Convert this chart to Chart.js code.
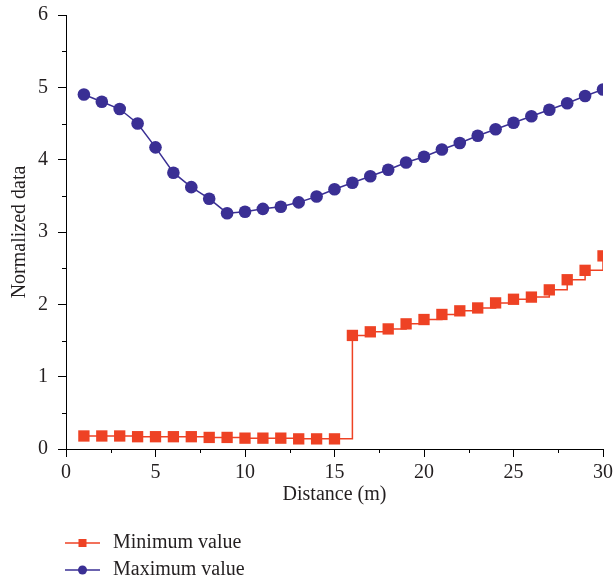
<!DOCTYPE html>
<html>
<head>
<meta charset="utf-8">
<script src="https://cdn.jsdelivr.net/npm/chart.js@4/dist/chart.umd.min.js"></script>
<style>
  html, body { margin: 0; padding: 0; background: #fff; }
  #wrap { width: 613px; height: 582px; position: relative; }
</style>
</head>
<body>
<div id="wrap"><canvas id="c" width="613" height="582"></canvas></div>
<script>
const distance = [1,2,3,4,5,6,7,8,9,10,11,12,13,14,15,16,17,18,19,20,21,22,23,24,25,26,27,28,29,30];
const minValue = [0.18,0.18,0.18,0.17,0.17,0.17,0.17,0.16,0.16,0.15,0.15,0.15,0.14,0.14,0.14,1.57,1.62,1.66,1.73,1.79,1.86,1.91,1.95,2.02,2.07,2.10,2.20,2.34,2.47,2.67];
const maxValue = [4.90,4.80,4.70,4.50,4.17,3.82,3.62,3.46,3.26,3.28,3.32,3.35,3.41,3.49,3.59,3.68,3.77,3.86,3.96,4.04,4.14,4.23,4.33,4.42,4.51,4.60,4.69,4.78,4.88,4.97];
const seriesNames = ['Minimum value', 'Maximum value'];
const xTickLabels = [0,5,10,15,20,25,30];
const yTickLabels = [0,1,2,3,4,5,6];

const RED = '#ee4224';
const BLUE = '#3a2f94';
const TXT = '#231f20';
const FONT = 'Liberation Serif';

const minorTicks = {
  id: 'minorTicks',
  afterDraw(chart) {
    const ctx = chart.ctx, xs = chart.scales.x, ys = chart.scales.y;
    ctx.save();
    ctx.strokeStyle = '#000';
    ctx.lineWidth = 1;
    ctx.beginPath();
    for (let i = 0; i < xTickLabels.length - 1; i++) {
      const v = (xTickLabels[i] + xTickLabels[i + 1]) / 2;
      const px = Math.round(xs.getPixelForValue(v)) + 0.5;
      ctx.moveTo(px, ys.bottom);
      ctx.lineTo(px, ys.bottom + 4);
    }
    for (let i = 0; i < yTickLabels.length - 1; i++) {
      const v = (yTickLabels[i] + yTickLabels[i + 1]) / 2;
      const py = Math.round(ys.getPixelForValue(v)) + 0.5;
      ctx.moveTo(xs.left, py);
      ctx.lineTo(xs.left - 4, py);
    }
    ctx.stroke();
    ctx.restore();
  }
};

const customLegend = {
  id: 'customLegend',
  afterDraw(chart) {
    const ctx = chart.ctx;
    const x0 = chart.chartArea.left - 1;
    const rows = [543, 570];
    ctx.save();
    chart.data.datasets.forEach((ds, i) => {
      const y = rows[i];
      ctx.strokeStyle = ds.borderColor;
      ctx.lineWidth = 1.5;
      ctx.beginPath();
      ctx.moveTo(x0, y);
      ctx.lineTo(x0 + 35, y);
      ctx.stroke();
      ctx.fillStyle = ds.pointBackgroundColor;
      const cx = x0 + 17.5;
      if (ds.pointStyle === 'rect') {
        ctx.fillRect(cx - 4, y - 4, 8, 8);
      } else {
        ctx.beginPath();
        ctx.arc(cx, y, 4.5, 0, Math.PI * 2);
        ctx.fill();
      }
      ctx.fillStyle = TXT;
      ctx.font = '20px "' + FONT + '"';
      ctx.textBaseline = 'middle';
      ctx.textAlign = 'left';
      ctx.fillText(ds.label, x0 + 48, y);
    });
    ctx.restore();
  }
};

new Chart(document.getElementById('c'), {
  type: 'line',
  data: {
    datasets: [
      {
        label: seriesNames[0],
        data: distance.map((d, i) => ({ x: d, y: minValue[i] })),
        borderColor: RED,
        backgroundColor: RED,
        pointBackgroundColor: RED,
        pointBorderColor: RED,
        pointStyle: 'rect',
        pointRadius: 8,
        pointBorderWidth: 0,
        borderWidth: 1.5,
        stepped: 'before',
        fill: false
      },
      {
        label: seriesNames[1],
        data: distance.map((d, i) => ({ x: d, y: maxValue[i] })),
        borderColor: BLUE,
        backgroundColor: BLUE,
        pointBackgroundColor: BLUE,
        pointBorderColor: BLUE,
        pointStyle: 'circle',
        pointRadius: 6.3,
        pointBorderWidth: 0,
        borderWidth: 1.5,
        tension: 0,
        fill: false
      }
    ]
  },
  options: {
    responsive: false,
    animation: false,
    devicePixelRatio: 1,
    layout: { padding: { top: 15, right: 10, left: 0, bottom: 73 } },
    plugins: {
      legend: { display: false },
      tooltip: { enabled: false }
    },
    scales: {
      x: {
        type: 'linear',
        min: 0, max: 30,
        afterBuildTicks(scale) { scale.ticks = xTickLabels.map(v => ({ value: v })); },
        afterFit(scale) {
          scale.height = 60;
          scale.paddingLeft = 0; scale.paddingRight = 0;
          scale.paddingTop = 0; scale.paddingBottom = 0;
        },
        border: { display: true, color: '#000', width: 1 },
        grid: { display: true, drawOnChartArea: false, drawTicks: true, tickLength: 8, color: '#000', tickColor: '#000' },
        ticks: { color: TXT, font: { family: FONT, size: 20 }, padding: 4, maxRotation: 0 },
        title: { display: true, text: 'Distance (m)', color: TXT, font: { family: FONT, size: 20 }, padding: { top: 0, bottom: 2 } }
      },
      y: {
        type: 'linear',
        min: 0, max: 6,
        afterBuildTicks(scale) { scale.ticks = yTickLabels.map(v => ({ value: v })); },
        afterFit(scale) {
          scale.width = 66;
          scale.paddingLeft = 0; scale.paddingRight = 0;
          scale.paddingTop = 0; scale.paddingBottom = 0;
        },
        border: { display: true, color: '#000', width: 1 },
        grid: { display: true, drawOnChartArea: false, drawTicks: true, tickLength: 8, color: '#000', tickColor: '#000' },
        ticks: { color: TXT, font: { family: FONT, size: 20 }, padding: 10 },
        title: { display: true, text: 'Normalized data', color: TXT, font: { family: FONT, size: 20 }, padding: { top: 8, bottom: 0 } }
      }
    }
  },
  plugins: [minorTicks, customLegend]
});
</script>
</body>
</html>
